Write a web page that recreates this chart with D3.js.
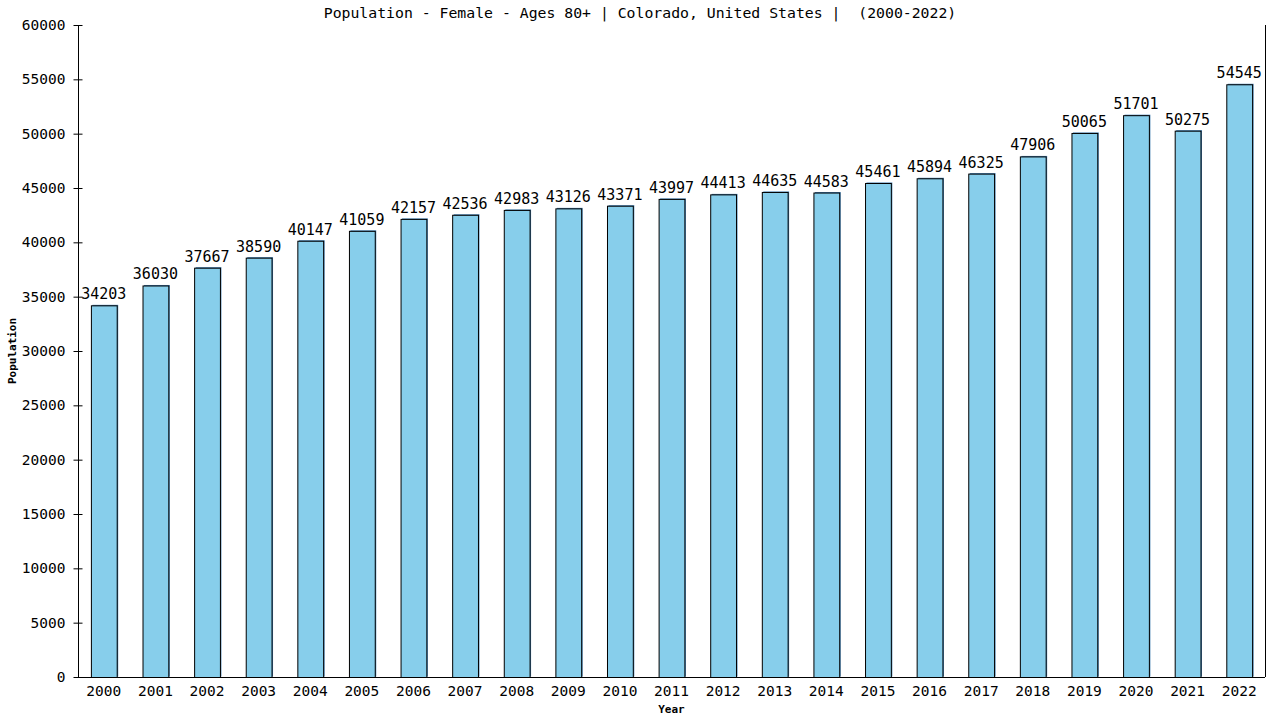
<!DOCTYPE html>
<html>
<head>
<meta charset="utf-8">
<script src="https://cdn.jsdelivr.net/npm/d3@7"></script>
<style>
  body { margin: 0; background: #fff; }
  text { font-family: "DejaVu Sans Mono", monospace; white-space: pre; }
</style>
</head>
<body>
<div id="chart"></div>
<script>
const years = ["2000","2001","2002","2003","2004","2005","2006","2007","2008","2009","2010","2011",
  "2012","2013","2014","2015","2016","2017","2018","2019","2020","2021","2022"];
const population = [34203,36030,37667,38590,40147,41059,42157,42536,42983,43126,43371,43997,
  44413,44635,44583,45461,45894,46325,47906,50065,51701,50275,54545];
const yTicks = [0,5000,10000,15000,20000,25000,30000,35000,40000,45000,50000,55000,60000];

const width = 1280, height = 720;
const margin = {top: 25, right: 15, bottom: 43, left: 78};

const svg = d3.select("#chart").append("svg")
    .attr("width", width)
    .attr("height", height);

const x = d3.scaleBand()
    .domain(years)
    .range([margin.left, width - margin.right])
    .paddingInner(0.5)
    .paddingOuter(0.25);

const y = d3.scaleLinear()
    .domain([0, 60000])
    .range([height - margin.bottom, margin.top]);

// bars: a blue edge behind, then the bar itself
const bars = svg.append("g");
bars.selectAll("rect.edge")
  .data(population)
  .join("rect")
    .attr("class", "edge")
    .attr("x", (d, i) => x(years[i]) + 1.5)
    .attr("y", d => y(d) - 0.5)
    .attr("width", x.bandwidth())
    .attr("height", d => y(0) - y(d))
    .attr("fill", "#4682b4");
bars.selectAll("rect.bar")
  .data(population)
  .join("rect")
    .attr("class", "bar")
    .attr("x", (d, i) => x(years[i]) + 0.5)
    .attr("y", d => y(d) + 0.5)
    .attr("width", x.bandwidth())
    .attr("height", d => y(0) - y(d))
    .attr("fill", "#87ceeb")
    .attr("stroke", "#000")
    .attr("stroke-width", 1);

// value labels
svg.append("g").selectAll("text")
  .data(population)
  .join("text")
    .attr("x", (d, i) => x(years[i]) + x.bandwidth() / 2)
    .attr("y", d => y(d) - 6)
    .attr("text-anchor", "middle")
    .attr("font-size", 15)
    .text(d => d);

// y axis
const yAxis = svg.append("g")
    .attr("transform", `translate(${margin.left + 0.5},0)`)
    .call(d3.axisLeft(y).tickValues(yTicks).tickFormat(d => d).tickSize(5).tickPadding(8));
yAxis.selectAll(".tick line").attr("x2", 4).attr("x1", -5);
yAxis.select(".domain").attr("d", `M0,${y(60000)}V${y(0)}`);
yAxis.selectAll("text").attr("font-size", 14.5).attr("font-family", "DejaVu Sans Mono, monospace");

// x axis
const xAxis = svg.append("g")
    .attr("transform", `translate(0,${y(0) + 0.5})`)
    .call(d3.axisBottom(x).tickSize(0).tickPadding(8));
xAxis.select(".domain").attr("d", `M${margin.left},0H${width - margin.right}`);
xAxis.selectAll("text").attr("font-size", 14.5).attr("font-family", "DejaVu Sans Mono, monospace");

// right border
svg.append("line")
    .attr("x1", width - margin.right + 0.5).attr("x2", width - margin.right + 0.5)
    .attr("y1", y(60000)).attr("y2", y(0))
    .attr("stroke", "#000");

// title and axis names
svg.append("text")
    .attr("x", width / 2)
    .attr("y", 18)
    .attr("text-anchor", "middle")
    .attr("font-size", 14.8)
    .text("Population - Female - Ages 80+ | Colorado, United States |  (2000-2022)");

svg.append("text")
    .attr("x", (margin.left + width - margin.right) / 2)
    .attr("y", 713)
    .attr("text-anchor", "middle")
    .attr("font-size", 11)
    .attr("font-weight", "bold")
    .text("Year");

svg.append("text")
    .attr("transform", `translate(16,${(y(0) + y(60000)) / 2}) rotate(-90)`)
    .attr("text-anchor", "middle")
    .attr("font-size", 11)
    .attr("font-weight", "bold")
    .text("Population");
</script>
</body>
</html>
